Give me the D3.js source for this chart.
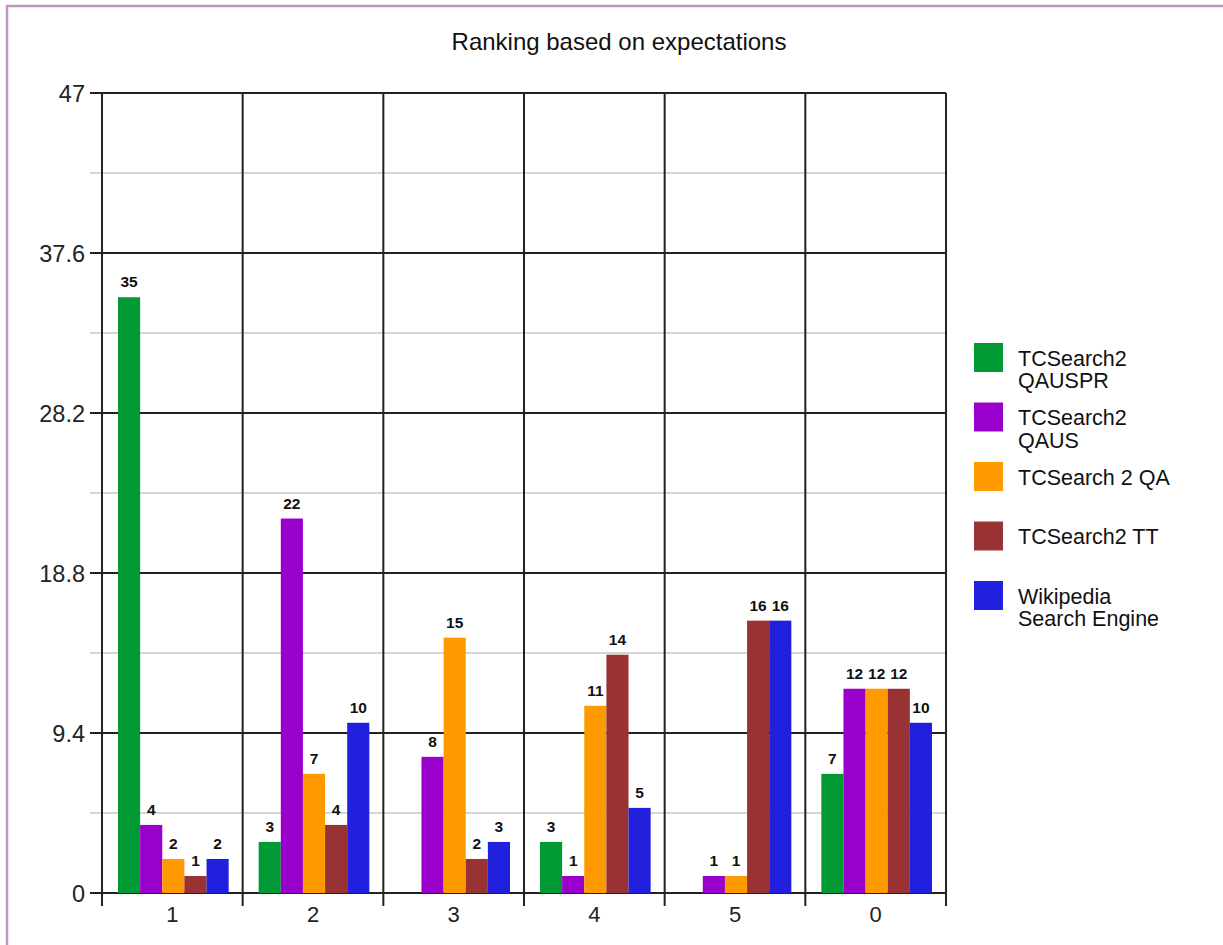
<!DOCTYPE html>
<html>
<head>
<meta charset="utf-8">
<script src="https://cdn.jsdelivr.net/npm/d3@7"></script>
<style>
  body { margin: 0; background: #fff; }
  text { font-family: "Liberation Sans", Arial, sans-serif; }
</style>
</head>
<body>
<div id="chart"></div>
<script>
// chart data
var categories = ["1", "2", "3", "4", "5", "0"];
var seriesNames = ["TCSearch2 QAUSPR", "TCSearch2 QAUS", "TCSearch 2 QA", "TCSearch2 TT", "Wikipedia Search Engine"];
var legendLines = [["TCSearch2", "QAUSPR"], ["TCSearch2", "QAUS"], ["TCSearch 2 QA"], ["TCSearch2 TT"], ["Wikipedia", "Search Engine"]];
var seriesColors = ["#009933", "#9900cc", "#ff9900", "#993333", "#2020dd"];
var qauspr = [35, 3, 0, 3, 0, 7];
var qaus = [4, 22, 8, 1, 1, 12];
var qa = [2, 7, 15, 11, 1, 12];
var tt = [1, 4, 2, 14, 16, 12];
var wiki = [2, 10, 3, 5, 16, 10];
var yTicks = [0, 9.4, 18.8, 28.2, 37.6, 47];
var yMinor = [4.7, 14.1, 23.5, 32.9, 42.3];

var seriesValues = [qauspr, qaus, qa, tt, wiki];

var width = 1223, height = 945;
var plotLeft = 102, plotRight = 946, plotTop = 93, plotBottom = 893;

var svg = d3.select("#chart").append("svg")
    .attr("width", width)
    .attr("height", height);

// outer frame
svg.append("rect")
    .attr("x", 7).attr("y", 6)
    .attr("width", 1240).attr("height", 1000)
    .attr("fill", "none")
    .attr("stroke", "#c096c0")
    .attr("stroke-width", 2.5);

svg.append("text")
    .attr("x", 619).attr("y", 50)
    .attr("text-anchor", "middle")
    .attr("font-size", 24)
    .attr("fill", "#111")
    .text("Ranking based on expectations");

var x = d3.scaleBand().domain(categories).range([plotLeft, plotRight]);
var xInner = d3.scaleBand().domain(d3.range(5)).range([16, x.bandwidth() - 14]);
var y = d3.scaleLinear().domain([0, 47]).range([plotBottom, plotTop]);

// minor grid
svg.selectAll(".minor")
    .data(yMinor)
    .enter().append("line")
    .attr("x1", plotLeft - 12).attr("x2", plotRight)
    .attr("y1", d => y(d)).attr("y2", d => y(d))
    .attr("stroke", "#c8c8c8")
    .attr("stroke-width", 1.5);

// major grid
svg.selectAll(".major")
    .data(yTicks)
    .enter().append("line")
    .attr("x1", plotLeft - 12).attr("x2", plotRight)
    .attr("y1", d => y(d)).attr("y2", d => y(d))
    .attr("stroke", "#222")
    .attr("stroke-width", 2);

// vertical category lines
var bounds = categories.map(c => x(c)).concat([plotRight]);
svg.selectAll(".vline")
    .data(bounds)
    .enter().append("line")
    .attr("x1", d => d).attr("x2", d => d)
    .attr("y1", plotTop).attr("y2", plotBottom + 13)
    .attr("stroke", "#222")
    .attr("stroke-width", 2);

svg.selectAll(".ylab")
    .data(yTicks)
    .enter().append("text")
    .attr("x", plotLeft - 17)
    .attr("y", d => y(d) + 8.5)
    .attr("text-anchor", "end")
    .attr("font-size", 23.5)
    .attr("fill", "#222")
    .text(d => d);

svg.selectAll(".xlab")
    .data(categories)
    .enter().append("text")
    .attr("x", d => x(d) + x.bandwidth() / 2)
    .attr("y", plotBottom + 29)
    .attr("text-anchor", "middle")
    .attr("font-size", 22)
    .attr("fill", "#222")
    .text(d => d);

// bars
var groups = svg.selectAll(".grp")
    .data(categories)
    .enter().append("g")
    .attr("transform", d => "translate(" + x(d) + ",0)");

seriesValues.forEach(function (vals, s) {
    groups.append("rect")
        .attr("x", xInner(s))
        .attr("width", xInner.bandwidth())
        .attr("y", (d, i) => y(vals[i]))
        .attr("height", (d, i) => plotBottom - y(vals[i]))
        .attr("fill", seriesColors[s]);

    groups.filter((d, i) => vals[i] > 0).append("text")
        .attr("x", xInner(s) + xInner.bandwidth() / 2)
        .attr("y", d => y(vals[categories.indexOf(d)]) - 10)
        .attr("text-anchor", "middle")
        .attr("font-size", 15.5)
        .attr("font-weight", "bold")
        .attr("fill", "#111")
        .text(d => vals[categories.indexOf(d)]);
});

// legend
var legend = svg.selectAll(".leg")
    .data(seriesNames)
    .enter().append("g")
    .attr("transform", (d, i) => "translate(974," + (343 + i * 59.5) + ")");

legend.append("rect")
    .attr("width", 29).attr("height", 29)
    .attr("fill", (d, i) => seriesColors[i]);

legend.append("text")
    .attr("x", 44)
    .attr("y", 22.5)
    .attr("font-size", 21.5)
    .attr("fill", "#111")
    .selectAll("tspan")
    .data((d, i) => legendLines[i])
    .enter().append("tspan")
    .attr("x", 44)
    .attr("dy", (d, j) => j === 0 ? 0 : 22.5)
    .text(d => d);
</script>
</body>
</html>
